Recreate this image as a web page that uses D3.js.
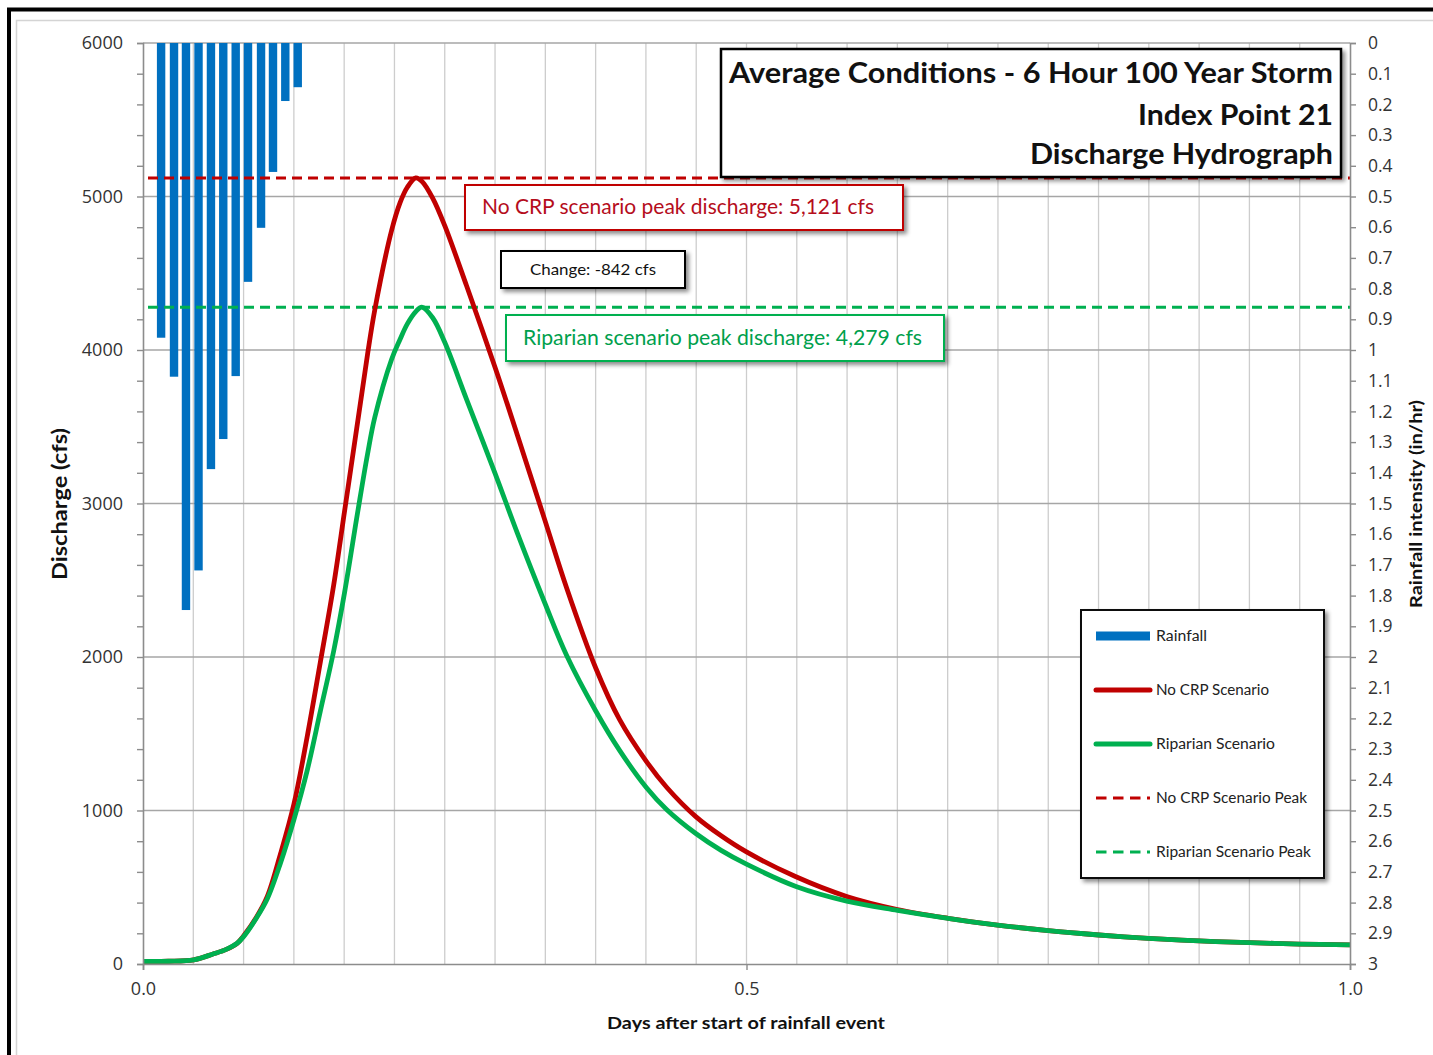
<!DOCTYPE html>
<html><head><meta charset="utf-8">
<script src="https://cdn.jsdelivr.net/npm/d3@7"></script>
<style>body{margin:0;background:#fff}svg{display:block}</style>
</head><body><svg id="c" width="1433" height="1055"></svg>
<script>
// ---------- DATA ----------
const flowTimes = [0,0.021,0.042,0.058,0.069,0.078,0.083,0.094,0.103,0.114,0.125,0.136,0.147,0.158,0.167,0.178,0.186,0.192,0.206,0.213,0.219,0.226,0.231,0.240,0.250,0.268,0.292,0.310,0.333,0.351,0.375,0.395,0.417,0.434,0.458,0.479,0.500,0.541,0.583,0.625,0.667,0.708,0.750,0.792,0.833,0.875,0.917,0.958,1.000];
const noCrpFlow = [17,18,27,65,95,135,180,305,440,720,1040,1480,1970,2470,2950,3540,3970,4260,4780,4960,5060,5121,5100,4990,4810,4420,3880,3450,2890,2450,1930,1590,1320,1150,960,835,730,568,440,355,298,254,217,189,167,150,139,130,124];
const riparianFlow = [17,18,27,65,95,135,175,300,425,660,940,1260,1650,2040,2420,2950,3320,3560,3940,4070,4170,4250,4279,4210,4050,3680,3190,2810,2350,2010,1650,1390,1150,1005,850,740,650,505,410,350,298,254,217,189,167,150,139,130,124];
const rainTimes = [0.015,0.0257,0.0356,0.046,0.0563,0.0665,0.0768,0.087,0.0978,0.1077,0.1179,0.1282];
const rainIntensity = [0.96,1.087,1.847,1.718,1.388,1.29,1.085,0.778,0.602,0.42,0.189,0.144];
const peakNoCrp = 5121;
const peakRiparian = 4279;
const dischargeTicks = [0,1000,2000,3000,4000,5000,6000];
const rainTickValues = [0,0.1,0.2,0.3,0.4,0.5,0.6,0.7,0.8,0.9,1,1.1,1.2,1.3,1.4,1.5,1.6,1.7,1.8,1.9,2,2.1,2.2,2.3,2.4,2.5,2.6,2.7,2.8,2.9,3];
const rainTickLabels = ["0","0.1","0.2","0.3","0.4","0.5","0.6","0.7","0.8","0.9","1","1.1","1.2","1.3","1.4","1.5","1.6","1.7","1.8","1.9","2","2.1","2.2","2.3","2.4","2.5","2.6","2.7","2.8","2.9","3"];
const dayTicks = [0,0.5,1.0];
const dayTickLabels = ["0.0","0.5","1.0"];
const titleLines = ["Average Conditions - 6 Hour 100 Year Storm","Index Point 21","Discharge Hydrograph"];
const legendItems = ["Rainfall","No CRP Scenario","Riparian Scenario","No CRP Scenario Peak","Riparian Scenario Peak"];

// ---------- SETUP ----------
const svg = d3.select("#c");
const RED = "#c00000", GREEN = "#00b050", BLUE = "#0070c0";
const LBL = "'Open Sans', sans-serif";
const CAL = "Lato, 'Open Sans', sans-serif";

const defs = svg.append("defs");
const f = defs.append("filter").attr("id","sh").attr("x","-10%").attr("y","-20%").attr("width","130%").attr("height","150%");
f.append("feDropShadow").attr("dx",3).attr("dy",3).attr("stdDeviation",2).attr("flood-color","#000").attr("flood-opacity",0.45);

svg.append("rect").attr("width",1433).attr("height",1055).attr("fill","#fff");
// frames
svg.append("path").attr("d","M16.5,1055V20.5H1433").attr("fill","none").attr("stroke","#d4d4d4").attr("stroke-width",1.5);
svg.append("path").attr("d","M9,1055V9.5H1433").attr("fill","none").attr("stroke","#000").attr("stroke-width",4);

const x = d3.scaleLinear().domain([0,1]).range([143,1350]);
const yQ = d3.scaleLinear().domain([0,6000]).range([964,43]);
const yR = d3.scaleLinear().domain([0,3]).range([43,964]);

// grid
const g = svg.append("g");
g.selectAll("line.v").data(d3.range(1,24)).join("line")
  .attr("x1",d=>x(d/24)).attr("x2",d=>x(d/24)).attr("y1",yQ(6000)).attr("y2",yQ(0))
  .attr("stroke","#cdcdcd").attr("stroke-width",1.3);
g.selectAll("line.h").data(dischargeTicks.filter(d=>d>0)).join("line")
  .attr("x1",x(0)).attr("x2",x(1)).attr("y1",d=>yQ(d)).attr("y2",d=>yQ(d))
  .attr("stroke","#a6a6a6").attr("stroke-width",1.5);

// rainfall bars
svg.append("g").selectAll("rect").data(rainTimes).join("rect")
  .attr("x",(d)=>x(d)-4.2).attr("width",8.4)
  .attr("y",yR(0)).attr("height",(d,i)=>yR(rainIntensity[i])-yR(0))
  .attr("fill",BLUE);

// peak dashed lines
svg.append("line").attr("x1",x(0)+5).attr("x2",x(1)).attr("y1",yQ(peakNoCrp)).attr("y2",yQ(peakNoCrp))
  .attr("stroke",RED).attr("stroke-width",3).attr("stroke-dasharray","10,6");
svg.append("line").attr("x1",x(0)+5).attr("x2",x(1)).attr("y1",yQ(peakRiparian)).attr("y2",yQ(peakRiparian))
  .attr("stroke",GREEN).attr("stroke-width",3).attr("stroke-dasharray","10,6");

// curves
const line = d3.line().x(d=>x(d[0])).y(d=>yQ(d[1])).curve(d3.curveCatmullRom.alpha(0.5));
svg.append("path").datum(flowTimes.map((t,i)=>[t,noCrpFlow[i]])).attr("d",line)
  .attr("fill","none").attr("stroke",RED).attr("stroke-width",4.8).attr("stroke-linejoin","round");
svg.append("path").datum(flowTimes.map((t,i)=>[t,riparianFlow[i]])).attr("d",line)
  .attr("fill","none").attr("stroke",GREEN).attr("stroke-width",4.8).attr("stroke-linejoin","round");

// axes
const axL = svg.append("g").attr("transform","translate(143,0)")
  .call(d3.axisLeft(yQ).tickValues(d3.range(0,6001,200)).tickSize(6).tickFormat(d=>dischargeTicks.includes(d)?String(d):""));
const axR = svg.append("g").attr("transform","translate(1350,0)")
  .call(d3.axisRight(yR).tickValues(rainTickValues).tickSize(6).tickFormat((d,i)=>rainTickLabels[i]));
const axB = svg.append("g").attr("transform","translate(0,964)")
  .call(d3.axisBottom(x).tickValues(dayTicks).tickSize(6).tickFormat((d,i)=>dayTickLabels[i]));
[axL,axR,axB].forEach(a=>{
  a.select(".domain").attr("stroke","#8c8c8c").attr("stroke-width",1.6);
  a.selectAll(".tick line").attr("stroke","#8c8c8c").attr("stroke-width",1.4);
  a.selectAll("text").attr("font-family",LBL).attr("font-size",18).attr("fill","#333");
});
axL.selectAll("text").attr("x",-20);
axR.selectAll("text").attr("x",18).attr("font-size",17.5);
axB.selectAll("text").attr("y",18);

function txt(parent, s, x0, y0, size, w, opts={}){
  const t = parent.append("text").attr("x",x0).attr("y",y0).text(s)
    .attr("font-family",opts.family||CAL).attr("font-size",size)
    .attr("font-weight",opts.weight||"normal").attr("fill",opts.fill||"#111");
  if(w) t.attr("textLength",w).attr("lengthAdjust","spacingAndGlyphs");
  if(opts.rotate) t.attr("transform",`rotate(-90,${x0},${y0})`);
  return t;
}

// axis titles
txt(svg,"Discharge (cfs)",67,580,20,152,{weight:"bold",rotate:true});
txt(svg,"Rainfall intensity (in/hr)",1422,608,17,208,{weight:"bold",rotate:true});
txt(svg,"Days after start of rainfall event",607,1029,17,278,{weight:"bold"});

// title box
svg.append("rect").attr("x",721).attr("y",49).attr("width",620).attr("height",128)
  .attr("fill","#fff").attr("stroke","#000").attr("stroke-width",2.5).attr("filter","url(#sh)");
txt(svg,titleLines[0],729,83,28,604,{weight:"bold"});
txt(svg,titleLines[1],1138,125,28,195,{weight:"bold"});
txt(svg,titleLines[2],1030,164,28,303,{weight:"bold"});

// annotation boxes
svg.append("rect").attr("x",465).attr("y",185).attr("width",438).attr("height",45)
  .attr("fill","#fff").attr("stroke",RED).attr("stroke-width",2).attr("filter","url(#sh)");
txt(svg,"No CRP scenario peak discharge: "+d3.format(",")(peakNoCrp)+" cfs",482,214,21,392,{fill:"#b50d1c"});

svg.append("rect").attr("x",501).attr("y",251).attr("width",184).attr("height",37)
  .attr("fill","#fff").attr("stroke","#000").attr("stroke-width",2).attr("filter","url(#sh)");
txt(svg,"Change: "+d3.format(",")(peakRiparian-peakNoCrp).replace("−","-")+" cfs",530,275,15,126,{fill:"#111"});

svg.append("rect").attr("x",506).attr("y",315).attr("width",438).attr("height",46)
  .attr("fill","#fff").attr("stroke",GREEN).attr("stroke-width",2).attr("filter","url(#sh)");
txt(svg,"Riparian scenario peak discharge: "+d3.format(",")(peakRiparian)+" cfs",523,345,21,399,{fill:"#00a04c"});

// legend
const lg = svg.append("g");
lg.append("rect").attr("x",1081).attr("y",610).attr("width",243).attr("height",268)
  .attr("fill","#fff").attr("stroke","#111").attr("stroke-width",2).attr("filter","url(#sh)");
const rowsY = [636,690,744,798,852];
const legendWidths = [51,113,119,151,155];
legendItems.forEach((name,i)=>{
  const yy = rowsY[i];
  if(i===0){
    lg.append("rect").attr("x",1096).attr("y",yy-4.5).attr("width",54).attr("height",9).attr("fill",BLUE);
  } else {
    const col = (i===1||i===3)?RED:GREEN;
    const l = lg.append("line").attr("x1",1096).attr("x2",1150).attr("y1",yy).attr("y2",yy).attr("stroke",col);
    if(i<3) l.attr("stroke-width",5).attr("stroke-linecap","round");
    else l.attr("stroke-width",3.2).attr("stroke-dasharray","10.5,6.5");
  }
  txt(lg,name,1156,yy+5,14.5,legendWidths[i],{fill:"#222"});
});
</script></body></html>
